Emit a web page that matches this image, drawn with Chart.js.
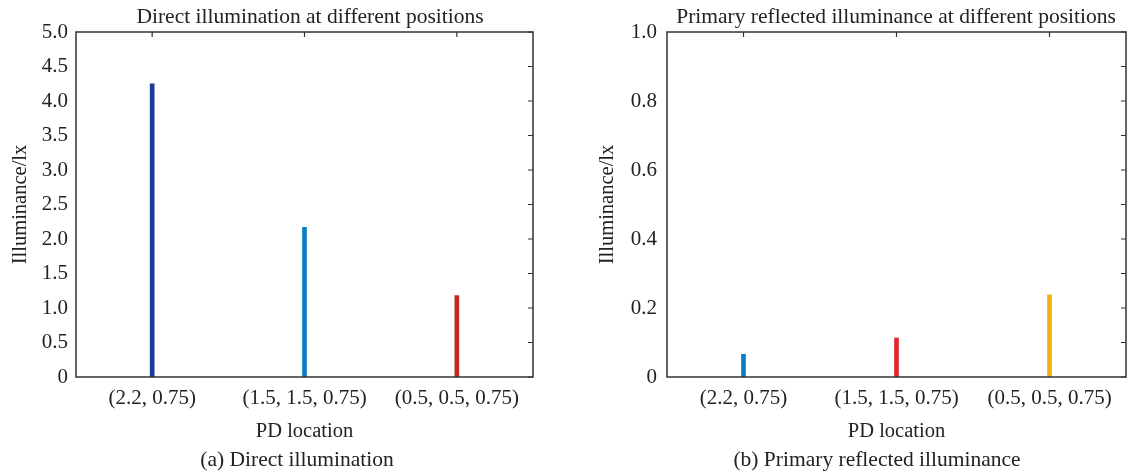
<!DOCTYPE html>
<html>
<head>
<meta charset="utf-8">
<script src="https://cdn.jsdelivr.net/npm/chart.js@4.4.0/dist/chart.umd.min.js"></script>
<style>
  body { margin: 0; background: #fff; width: 1130px; height: 473px; overflow: hidden; position: relative; font-family: "Liberation Serif", serif; }
  .box { position: absolute; top: 0; width: 560px; height: 473px; }
  .txt { position: absolute; font-size: 21.5px; color: #222; white-space: nowrap; transform: translateX(-50%); }
</style>
</head>
<body>
<div class="box" style="left:0"><canvas id="chartA"></canvas></div>
<div class="box" style="left:570px"><canvas id="chartB"></canvas></div>
<div class="txt" style="left:310px; top:4px">Direct illumination at different positions</div>
<div class="txt" style="left:896px; top:4px">Primary reflected illuminance at different positions</div>
<div class="txt" style="left:297px; top:447px">(a) Direct illumination</div>
<div class="txt" style="left:877px; top:447px">(b) Primary reflected illuminance</div>
<script>
const locations = ['(2.2, 0.75)', '(1.5, 1.5, 0.75)', '(0.5, 0.5, 0.75)'];
const directValues = [4.25, 2.17, 1.18];
const reflectedValues = [0.066, 0.113, 0.238];
const directColors = ['#1b3a9e', '#0b7dc6', '#c4281c'];
const reflectedColors = ['#0b7dc6', '#e0262a', '#f0b10c'];

const fontTick = { family: 'Liberation Serif', size: 21 };
const fontTitle = { family: 'Liberation Serif', size: 20.5 };

// box round the plot area with MATLAB-style inward ticks on top and right
const boxPlugin = {
  id: 'boxTicks',
  afterDraw(chart) {
    const { ctx, chartArea: a, scales } = chart;
    ctx.save();
    ctx.strokeStyle = '#333';
    ctx.lineWidth = 1.5;
    ctx.strokeRect(a.left, a.top, a.right - a.left, a.bottom - a.top);
    ctx.lineWidth = 1.2;
    ctx.beginPath();
    scales.x.ticks.forEach((t, i) => {
      const px = scales.x.getPixelForTick(i);
      ctx.moveTo(px, a.top);
      ctx.lineTo(px, a.top + 5);
    });
    scales.y.ticks.forEach(t => {
      const py = scales.y.getPixelForValue(t.value);
      ctx.moveTo(a.right, py);
      ctx.lineTo(a.right - 5, py);
    });
    ctx.stroke();
    ctx.restore();
  }
};

function makeChart(id, values, colors, opts) {
  return new Chart(document.getElementById(id), {
    type: 'bar',
    data: {
      labels: locations,
      datasets: [{ data: values, backgroundColor: colors, barThickness: 4 }]
    },
    options: {
      responsive: true,
      maintainAspectRatio: false,
      animation: false,
      layout: { padding: { top: 32, right: opts.padRight, bottom: 25, left: opts.padLeft } },
      plugins: { legend: { display: false }, tooltip: { enabled: false } },
      scales: {
        x: {
          grid: { display: false, drawTicks: false },
          border: { display: false },
          ticks: { font: fontTick, color: '#222', padding: 9, maxRotation: 0 },
          title: { display: true, text: 'PD location', font: fontTitle, color: '#222', padding: { top: 4 } },
          afterFit(s) { s.height = 71; }
        },
        y: {
          min: 0,
          max: opts.max,
          grid: { display: false, drawTicks: false },
          border: { display: false },
          ticks: {
            stepSize: opts.step,
            font: fontTick,
            color: '#222',
            padding: opts.tickPad,
            callback: opts.label
          },
          title: { display: true, text: 'Illuminance/lx', font: fontTitle, color: '#222', padding: 0 },
          afterFit(s) { s.width = opts.yWidth; }
        }
      }
    },
    plugins: [boxPlugin]
  });
}

makeChart('chartA', directValues, directColors, {
  max: 5, step: 0.5, yWidth: 68, padLeft: 8, padRight: 27, tickPad: 8,
  label: v => v === 0 ? '0' : v.toFixed(1)
});

makeChart('chartB', reflectedValues, reflectedColors, {
  max: 1, step: 0.1, yWidth: 72, padLeft: 25, padRight: 4, tickPad: 10,
  label: v => {
    const k = Math.round(v * 10);
    if (k % 2 !== 0) return '';
    return k === 0 ? '0' : (k / 10).toFixed(1);
  }
});
</script>
</body>
</html>
